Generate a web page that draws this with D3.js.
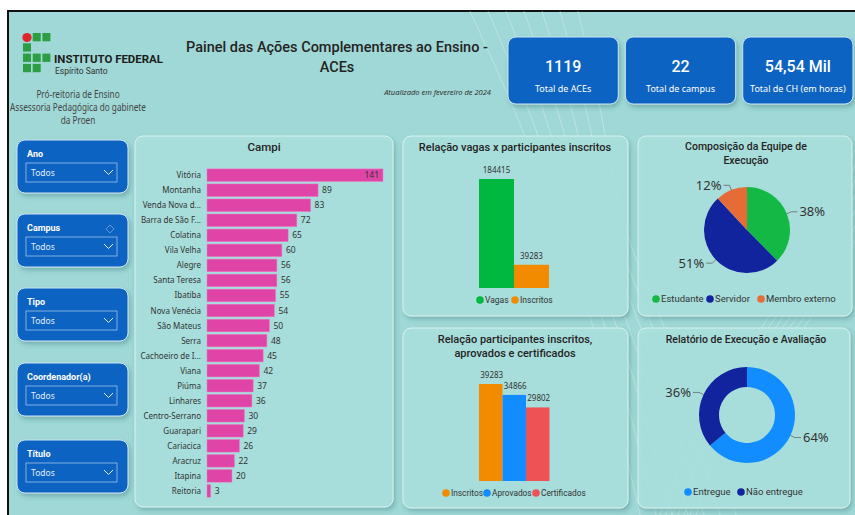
<!DOCTYPE html>
<html>
<head>
<meta charset="utf-8">
<script src="https://cdn.jsdelivr.net/npm/d3@7"></script>
<style>
  body { margin: 0; background: #fff; }
  svg { display: block; font-family: "Noto Sans", sans-serif; }
  .ttl { font-family: Roboto, sans-serif; font-weight: 500; fill: #252423; }
  .leg { font-family: Roboto, sans-serif; }
</style>
</head>
<body>
<div id="chart"></div>
<script>
// ---- data ----
const campi = ["Vitória", "Montanha", "Venda Nova d...", "Barra de São F...", "Colatina", "Vila Velha",
  "Alegre", "Santa Teresa", "Ibatiba", "Nova Venécia", "São Mateus", "Serra", "Cachoeiro de I...",
  "Viana", "Piúma", "Linhares", "Centro-Serrano", "Guarapari", "Cariacica", "Aracruz", "Itapina", "Reitoria"];
const campiVals = [141, 89, 83, 72, 65, 60, 56, 56, 55, 54, 50, 48, 45, 42, 37, 36, 30, 29, 26, 22, 20, 3];

const vagasCats = ["Vagas", "Inscritos"];
const vagasVals = [184415, 39283];

const partCats = ["Inscritos", "Aprovados", "Certificados"];
const partVals = [39283, 34866, 29802];

const equipeCats = ["Estudante", "Servidor", "Membro externo"];
const equipeVals = [38, 51, 12];

const relCats = ["Entregue", "Não entregue"];
const relVals = [64, 36];

const kpiVals = ["1119", "22", "54,54 Mil"];
const kpiLabels = ["Total de ACEs", "Total de campus", "Total de CH (em horas)"];

const filtros = ["Ano", "Campus", "Tipo", "Coordenador(a)", "Título"];

// ---- setup ----
const width = 855, height = 515;
const svg = d3.select("#chart").append("svg")
  .attr("width", width).attr("height", height);

const defs = svg.append("defs");
const sh = defs.append("filter").attr("id", "shadow")
  .attr("x", "-10%").attr("y", "-10%").attr("width", "130%").attr("height", "130%");
sh.append("feDropShadow").attr("dx", 2).attr("dy", 3).attr("stdDeviation", 2)
  .attr("flood-color", "#2f6f6d").attr("flood-opacity", 0.35);

// background + frame
svg.append("rect").attr("x", 8).attr("y", 11).attr("width", width - 8).attr("height", height - 11)
  .attr("fill", "#9fd8d6");
svg.append("line").attr("x1", 7).attr("x2", width).attr("y1", 11).attr("y2", 11)
  .attr("stroke", "#111").attr("stroke-width", 2);
svg.append("line").attr("x1", 8).attr("x2", 8).attr("y1", 10).attr("y2", height)
  .attr("stroke", "#111").attr("stroke-width", 2);

// faint decorative contour lines
const deco = svg.append("g").attr("fill", "none").attr("stroke", "#ffffff").attr("stroke-opacity", 0.3);
const curve = d3.line().curve(d3.curveBasis);
for (let i = 0; i < 7; i++) {
  deco.append("path").attr("stroke-width", 1).attr("d", curve([
    [470 + i * 18, 11], [520 + i * 14, 120], [560 + i * 10, 230], [600 + i * 12, 340], [640 + i * 16, 515]]));
  deco.append("path").attr("stroke-width", 1).attr("d", curve([
    [660 + i * 6, 515], [700 + i * 4, 420], [760 + i * 8, 330], [820 + i * 6, 240], [855, 150 + i * 15]]));
}

// ---- header ----
const logo = svg.append("g");
const cells = [[0, 0, "r"], [1, 0], [2, 0], [0, 1], [0, 2], [1, 2], [2, 2], [0, 3], [1, 3]];
cells.forEach(c => {
  if (c[2] === "r") {
    logo.append("circle").attr("cx", 27).attr("cy", 37.5).attr("r", 4.6).attr("fill", "#e1242b");
  } else {
    logo.append("rect").attr("x", 23 + c[0] * 9.7).attr("y", 33 + c[1] * 10.3)
      .attr("width", 8).attr("height", 8.3).attr("fill", "#2e9e45");
  }
});
logo.append("text").attr("x", 54).attr("y", 63).attr("font-size", 11.5).attr("font-weight", 700)
  .attr("font-family", "Roboto, sans-serif").attr("fill", "#1d1d1b")
  .attr("textLength", 109).attr("lengthAdjust", "spacingAndGlyphs").text("INSTITUTO FEDERAL");
logo.append("text").attr("x", 55).attr("y", 74).attr("font-size", 8.5).attr("fill", "#333")
  .attr("font-family", "Roboto, sans-serif").text("Espírito Santo");

const sub = svg.append("g").attr("transform", "translate(78,0) scale(0.82,1)");
["Pró-reitoria de Ensino", "Assessoria Pedagógica do gabinete", "da Proen"].forEach((t, i) => {
  sub.append("text").attr("x", 0).attr("y", 98 + i * 13).attr("text-anchor", "middle")
    .attr("font-size", 10).attr("fill", "#444").text(t);
});

svg.append("text").attr("class", "ttl").attr("x", 337).attr("y", 52).attr("text-anchor", "middle")
  .attr("font-size", 14.5).attr("font-weight", 700).text("Painel das Ações Complementares ao Ensino -");
svg.append("text").attr("class", "ttl").attr("x", 337).attr("y", 72).attr("text-anchor", "middle")
  .attr("font-size", 14.5).attr("font-weight", 700).text("ACEs");
svg.append("text").attr("x", 491).attr("y", 95).attr("text-anchor", "end").attr("font-size", 7.5)
  .attr("font-style", "italic").attr("fill", "#333").text("Atualizado em fevereiro de 2024");

// KPI cards
const kpiX = d3.scaleBand().domain(d3.range(kpiVals.length)).range([508, 853]).paddingInner(0.06);
kpiVals.forEach((v, i) => {
  const g = svg.append("g").attr("transform", `translate(${kpiX(i)},37)`);
  g.append("rect").attr("width", kpiX.bandwidth()).attr("height", 67).attr("rx", 8)
    .attr("fill", "#0d63c2").attr("stroke", "#cfe3f5").attr("stroke-width", 1).attr("filter", "url(#shadow)");
  g.append("text").attr("x", kpiX.bandwidth() / 2).attr("y", 35).attr("text-anchor", "middle")
    .attr("font-family", "Roboto, sans-serif").attr("font-weight", 500).attr("font-size", 16)
    .attr("fill", "#fff").text(v);
  g.append("text").attr("x", kpiX.bandwidth() / 2).attr("y", 55).attr("text-anchor", "middle")
    .attr("font-size", 9).attr("fill", "#fff").text(kpiLabels[i]);
});

// filter slicers
const filY = [140, 214, 288, 363, 440];
filtros.forEach((f, i) => {
  const g = svg.append("g").attr("transform", `translate(17,${filY[i]})`);
  g.append("rect").attr("width", 111).attr("height", 53).attr("rx", 8)
    .attr("fill", "#0d63c2").attr("stroke", "#cfe3f5").attr("filter", "url(#shadow)");
  g.append("text").attr("x", 10).attr("y", 17).attr("font-size", 9).attr("font-weight", 700)
    .attr("font-family", "Roboto, sans-serif").attr("fill", "#fff").text(f);
  g.append("rect").attr("x", 9).attr("y", 23).attr("width", 91).attr("height", 19)
    .attr("fill", "none").attr("stroke", "#9cc2ec").attr("stroke-width", 0.8);
  g.append("text").attr("x", 14).attr("y", 36).attr("font-size", 8.5).attr("fill", "#e3eefa").text("Todos");
  g.append("path").attr("d", "M87,30 l4.5,4.5 l4.5,-4.5").attr("fill", "none")
    .attr("stroke", "#e3eefa").attr("stroke-width", 1);
  if (f === "Campus") {
    g.append("path").attr("d", "M89,15 l4,-4 l4,4 l-4,4 z").attr("fill", "none")
      .attr("stroke", "#7aa6d8").attr("stroke-width", 0.8);
  }
});

// panels
function panel(x, y, w, h) {
  svg.append("rect").attr("x", x).attr("y", y).attr("width", w).attr("height", h).attr("rx", 8)
    .attr("fill", "#a9e1dd").attr("fill-opacity", 0.92).attr("stroke", "#d8f2ef").attr("stroke-width", 1)
    .attr("filter", "url(#shadow)");
}
panel(135, 136, 258, 371);
panel(403, 136, 225, 180);
panel(403, 328, 225, 180);
panel(638, 136, 214, 180);
panel(638, 328, 212, 180);

function legend(items, colors, x0, y, gaps, fs) {
  let x = x0;
  items.forEach((t, i) => {
    svg.append("circle").attr("cx", x).attr("cy", y).attr("r", 3.8).attr("fill", colors[i]);
    svg.append("text").attr("class", "leg").attr("x", x + 5).attr("y", y + fs * 0.36).attr("font-size", fs)
      .attr("fill", "#333").text(t);
    x += gaps[i];
  });
}

// ---- Campi bar chart ----
svg.append("text").attr("class", "ttl").attr("x", 264).attr("y", 151).attr("text-anchor", "middle")
  .attr("font-size", 11.5).text("Campi");
const yC = d3.scaleBand().domain(campi).range([166.5, 499.6]).padding(0.16);
const xC = d3.scaleLinear().domain([0, 141]).range([207, 383]);
svg.append("g").selectAll("rect").data(campi).join("rect")
  .attr("x", xC(0)).attr("y", d => yC(d)).attr("height", yC.bandwidth())
  .attr("width", (d, i) => xC(campiVals[i]) - xC(0))
  .attr("fill", "#e044a7").attr("stroke", "#f07cc6").attr("stroke-width", 0.5);
svg.append("g").selectAll("text").data(campi).join("text")
  .attr("x", 201).attr("y", d => yC(d) + yC.bandwidth() / 2 + 3).attr("text-anchor", "end")
  .attr("font-size", 8).attr("fill", "#333").text(d => d);
svg.append("g").selectAll("text").data(campi).join("text")
  .attr("x", (d, i) => i === 0 ? xC(campiVals[i]) - 4 : xC(campiVals[i]) + 4)
  .attr("text-anchor", (d, i) => i === 0 ? "end" : "start")
  .attr("y", d => yC(d) + yC.bandwidth() / 2 + 3)
  .attr("font-size", 8.5).attr("fill", "#333").text((d, i) => campiVals[i]);

// ---- Vagas x inscritos ----
svg.append("text").attr("class", "ttl").attr("x", 515).attr("y", 151).attr("text-anchor", "middle")
  .attr("font-size", 11).text("Relação vagas x participantes inscritos");
const vagasColors = ["#00b83f", "#f38b00"];
const xV = d3.scaleBand().domain(vagasCats).range([479, 549]);
const yV = d3.scaleLinear().domain([0, 184415]).range([288, 179]);
svg.append("g").selectAll("rect").data(vagasCats).join("rect")
  .attr("x", d => xV(d)).attr("width", xV.bandwidth())
  .attr("y", (d, i) => yV(vagasVals[i])).attr("height", (d, i) => yV(0) - yV(vagasVals[i]))
  .attr("fill", (d, i) => vagasColors[i]);
svg.append("g").selectAll("text").data(vagasCats).join("text")
  .attr("x", d => xV(d) + xV.bandwidth() / 2).attr("y", (d, i) => yV(vagasVals[i]) - 6)
  .attr("text-anchor", "middle").attr("font-size", 8).attr("fill", "#333").text((d, i) => vagasVals[i]);
legend(vagasCats, vagasColors, 480, 300, [35, 0], 8.5);

// ---- Inscritos / aprovados / certificados ----
svg.append("text").attr("class", "ttl").attr("x", 515).attr("y", 343).attr("text-anchor", "middle")
  .attr("font-size", 11).text("Relação participantes inscritos,");
svg.append("text").attr("class", "ttl").attr("x", 515).attr("y", 357).attr("text-anchor", "middle")
  .attr("font-size", 11).text("aprovados e certificados");
const partColors = ["#f38b00", "#118dff", "#ef5254"];
const xP = d3.scaleBand().domain(partCats).range([479, 549.5]);
const yP = d3.scaleLinear().domain([0, 39283]).range([481, 384]);
svg.append("g").selectAll("rect").data(partCats).join("rect")
  .attr("x", d => xP(d)).attr("width", xP.bandwidth())
  .attr("y", (d, i) => yP(partVals[i])).attr("height", (d, i) => yP(0) - yP(partVals[i]))
  .attr("fill", (d, i) => partColors[i]);
svg.append("g").selectAll("text").data(partCats).join("text")
  .attr("x", d => xP(d) + xP.bandwidth() / 2 + 1).attr("y", (d, i) => yP(partVals[i]) - 6)
  .attr("text-anchor", "middle").attr("font-size", 8).attr("fill", "#333").text((d, i) => partVals[i]);
legend(partCats, partColors, 446, 493, [41, 49, 0], 8.3);

// ---- pie / donut helpers ----
function pieChart(vals, colors, cx, cy, r0, r1, labelSize) {
  const arcs = d3.pie().sort(null).value(d => d)(vals);
  const arc = d3.arc().innerRadius(r0).outerRadius(r1);
  const g = svg.append("g").attr("transform", `translate(${cx},${cy})`);
  g.selectAll("path").data(arcs).join("path").attr("d", arc).attr("fill", (d, i) => colors[i]);
  arcs.forEach((a, i) => {
    const m = (a.startAngle + a.endAngle) / 2;
    const sx = Math.sin(m), sy = -Math.cos(m);
    const side = sx >= 0 ? 1 : -1;
    const p1 = [sx * r1, sy * r1], p2 = [sx * (r1 + 5), sy * (r1 + 5)], p3 = [p2[0] + side * 6, p2[1]];
    g.append("polyline").attr("points", [p1, p2, p3].map(p => p.join(",")).join(" "))
      .attr("fill", "none").attr("stroke", "#666").attr("stroke-width", 0.8);
    g.append("text").attr("x", p3[0] + side * 2).attr("y", p3[1] + 4.5)
      .attr("text-anchor", side > 0 ? "start" : "end").attr("font-size", labelSize)
      .attr("fill", "#333").text(vals[i] + "%");
  });
}

svg.append("text").attr("class", "ttl").attr("x", 746).attr("y", 150).attr("text-anchor", "middle")
  .attr("font-size", 10.5).text("Composição da Equipe de");
svg.append("text").attr("class", "ttl").attr("x", 746).attr("y", 164).attr("text-anchor", "middle")
  .attr("font-size", 10.5).text("Execução");
const equipeColors = ["#13b845", "#12239e", "#e66c37"];
pieChart(equipeVals, equipeColors, 747, 230, 0, 43, 13);
legend(equipeCats, equipeColors, 656, 299, [54, 51, 0], 9.5);

svg.append("text").attr("class", "ttl").attr("x", 746).attr("y", 343).attr("text-anchor", "middle")
  .attr("font-size", 10.5).text("Relatório de Execução e Avaliação");
const relColors = ["#118dff", "#12239e"];
pieChart(relVals, relColors, 747, 415, 28, 48, 13);
legend(relCats, relColors, 688, 492, [53, 0], 9.5);
</script>
</body>
</html>
